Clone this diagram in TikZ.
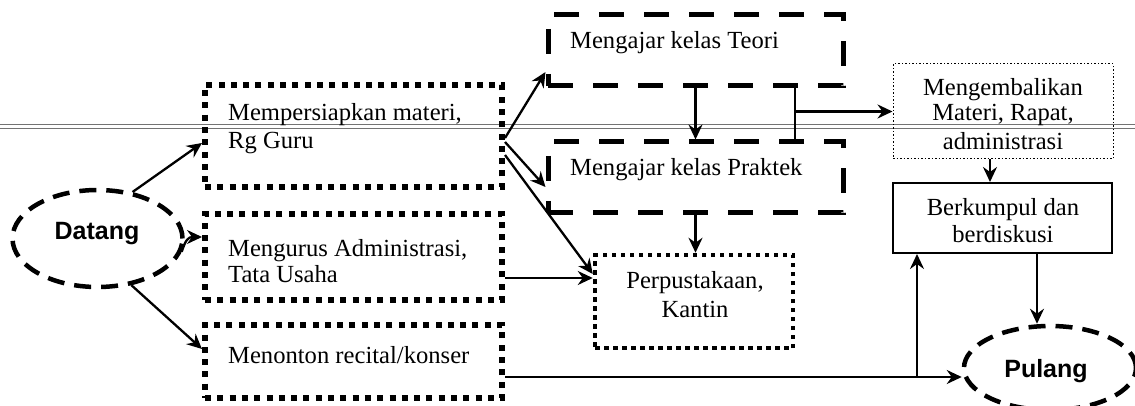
\documentclass[tikz,border=0pt]{standalone}
\usepackage{fontspec}
\setmainfont{Liberation Serif}
\newfontfamily\headfont{Liberation Sans}
\usetikzlibrary{arrows.meta,shapes.geometric,calc}

\begin{document}
\begin{tikzpicture}[x=1pt,y=-1pt,
  every node/.style={inner sep=0pt},
  txt/.style={font=\fontsize{24.6}{28}\selectfont},
  endtxt/.style={font=\headfont\bfseries\fontsize{25}{30}\selectfont},
  thickdots/.style={draw, line width=6pt, dash pattern=on 6pt off 6.3pt},
  finedots/.style={draw, line width=4.5pt, dash pattern=on 4.5pt off 4.5pt},
  longdash/.style={draw, line width=5pt, dash pattern=on 25pt off 20pt},
  hairdots/.style={draw, line width=1pt, dash pattern=on 1.5pt off 2pt},
  plainbox/.style={draw, line width=2pt},
  oval/.style={ellipse, draw, line width=4.5pt, dash pattern=on 17pt off 10pt},
  flow/.style={line width=2.3pt, -{Stealth[length=15pt,width=14pt,inset=5pt]}},
  link/.style={line width=2.3pt},
  scanline/.style={line width=1pt, black!55}
]
\useasboundingbox (0,0) rectangle (1135,406);

% faint double rule running across the sheet
\draw[scanline] (0,125) -- (1135,125);
\draw[scanline] (0,129) -- (1135,129);

% start and end ovals
\node[oval, minimum width=170pt, minimum height=97pt] (Datang) at (97.5,238.5) {};
\node[oval, minimum width=172pt, minimum height=84pt] (Pulang) at (1050,368) {};
\node[endtxt, anchor=base] (DatangT) at (97,240) {Datang};
\node[endtxt, anchor=base] (PulangT) at (1046,377) {Pulang};

% activity boxes
\node[thickdots, minimum width=297pt, minimum height=102pt] (A) at (353.5,136) {};
\node[thickdots, minimum width=297pt, minimum height=86pt] (B) at (353.5,257) {};
\node[thickdots, minimum width=297pt, minimum height=73pt] (C) at (353.5,361.5) {};
\node[longdash, minimum width=295pt, minimum height=71pt] (D) at (695.5,50.5) {};
\node[longdash, minimum width=295pt, minimum height=71pt] (E) at (695.5,177.5) {};
\node[finedots, minimum width=198pt, minimum height=93pt] (F) at (694,301.5) {};
\node[hairdots, minimum width=220pt, minimum height=95pt] (G) at (1003,111.5) {};
\node[plainbox, minimum width=219pt, minimum height=70pt] (H) at (1002.5,218) {};

% box texts
\node[txt, anchor=base west] (A1) at (228,121) {Mempersiapkan materi,};
\node[txt, anchor=base west] (A2) at (228,149) {Rg Guru};
\node[txt, anchor=base west] (B1) at (228,256) {Mengurus Administrasi,};
\node[txt, anchor=base west] (B2) at (228,282) {Tata Usaha};
\node[txt, anchor=base west] (C1) at (228,363) {Menonton recital/konser};
\node[txt, anchor=base west] (D1) at (570,49) {Mengajar kelas Teori};
\node[txt, anchor=base west] (E1) at (570,176) {Mengajar kelas Praktek};
\node[txt, anchor=base] (F1) at (695,288) {Perpustakaan,};
\node[txt, anchor=base] (F2) at (695,317) {Kantin};
\node[txt, anchor=base] (G1) at (1003,96) {Mengembalikan};
\node[txt, anchor=base] (G2) at (1003,121) {Materi, Rapat,};
\node[txt, anchor=base] (G3) at (1003,150) {administrasi};
\node[txt, anchor=base] (H1) at (1003,216) {Berkumpul dan};
\node[txt, anchor=base] (H2) at (1003,242) {berdiskusi};

% from the start
\draw[flow] (Datang.53) -- ($(A.west)+(0,7)$);
\draw[flow] (Datang.-9) .. controls +(4,-12) and +(-14,0) .. ($(B.west)+(0,-20)$);
\draw[flow] (Datang.-54) -- ($(C.west)+(0,-12.5)$);

% from preparation
\draw[flow] ($(A.east)+(0,2)$) -- ($(D.west)+(0,21.5)$);
\draw[flow] ($(A.east)+(0,6)$) -- ($(E.west)+(0,9.5)$);
\draw[flow] ($(A.east)+(0,19)$) -- ($(F.west)+(0,-27.5)$);
\draw[flow] ($(B.east)+(0,21)$) -- ($(F.west)+(0,-23.5)$);

% teaching chain
\draw[flow] (D.south) -- (E.north);
\draw[flow] (E.south) -- (E.south |- F.north);
\path (D.south) ++(99.5,0) coordinate (dTop);
\path (E.north) ++(99.5,0) coordinate (eTop);
\draw[link] (dTop) -- (eTop);
\draw[flow] (dTop |- G.west) -- (G.west);

% closing steps
\path (G.south) ++(-13,0) coordinate (gOut);
\draw[flow] (gOut) -- (gOut |- H.north);
\path (H.south) ++(34.5,0) coordinate (hOut);
\draw[flow] (hOut) -- (hOut |- Pulang.north);

% concert path
\path (C.east) ++(0,15.5) coordinate (cOut);
\draw[flow] (cOut) -- (cOut -| Pulang.west);
\path (cOut) ++(412,0) coordinate (rise);
\draw[flow] (rise) -- (rise |- H.south);
\end{tikzpicture}
\end{document}
